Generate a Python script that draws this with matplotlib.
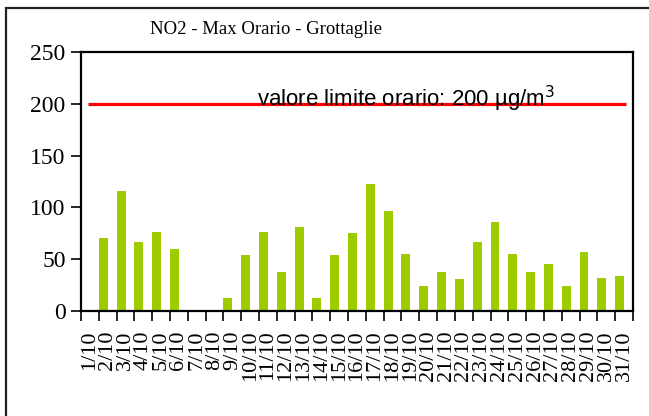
import matplotlib.pyplot as plt
from matplotlib.patches import Rectangle

# daily maximum hourly NO2 at Grottaglie, October
days = [f"{d}/10" for d in range(1, 32)]
no2_max = [0, 70, 116, 67, 76, 60, 0, 0, 13, 54, 76, 38, 81, 13, 54, 75,
           123, 97, 55, 24, 38, 31, 67, 86, 55, 38, 45, 24, 57, 32, 34]
limit = 200
limit_label = "valore limite orario: 200 µg/m$^3$"

fig = plt.figure(figsize=(6.49, 4.16), dpi=100)
ax = fig.add_axes([0.1248, 0.2524, 0.8505, 0.6226])

# outer frame, running off the right and bottom of the image
fig.patches.append(Rectangle((6 / 649, -0.2), 1.2, 1 - 8 / 416 + 0.2,
                             transform=fig.transFigure, fill=False,
                             edgecolor="#222222", linewidth=1.6))

x = list(range(len(days)))
ax.bar(x, no2_max, width=0.5, align="edge", color="#9ccc00", linewidth=0)
ax.plot([0.4, 30.6], [limit, limit], color="#ff0000", linewidth=2.3,
        solid_capstyle="butt")
ax.text(9.9, limit - 2, limit_label, fontsize=16, family="Liberation Sans",
        ha="left", va="baseline")

ax.set_xlim(0, len(days))
ax.set_ylim(0, 250)
ax.set_yticks(range(0, 251, 50))
ax.set_xticks(range(len(days) + 1))
ax.set_xticklabels([])
ax.set_xticks([i + 0.5 for i in x], minor=True)
ax.set_xticklabels(days, minor=True, rotation=90, fontsize=16,
                   family="Liberation Serif")
ax.tick_params(axis="x", which="minor", length=0, pad=14)
ax.tick_params(axis="x", which="major", length=7, width=1.2, direction="out")
ax.tick_params(axis="y", length=7, width=1.2, direction="out", pad=4)
for lab in ax.get_yticklabels():
    lab.set_family("Liberation Serif")
    lab.set_fontsize(17)
for s in ax.spines.values():
    s.set_linewidth(1.6)

fig.text(266 / 649, 1 - 30 / 416, "NO2 - Max Orario - Grottaglie",
         fontsize=13.5, family="Liberation Serif", ha="center", va="center")

fig.savefig("out.png", dpi=100)
